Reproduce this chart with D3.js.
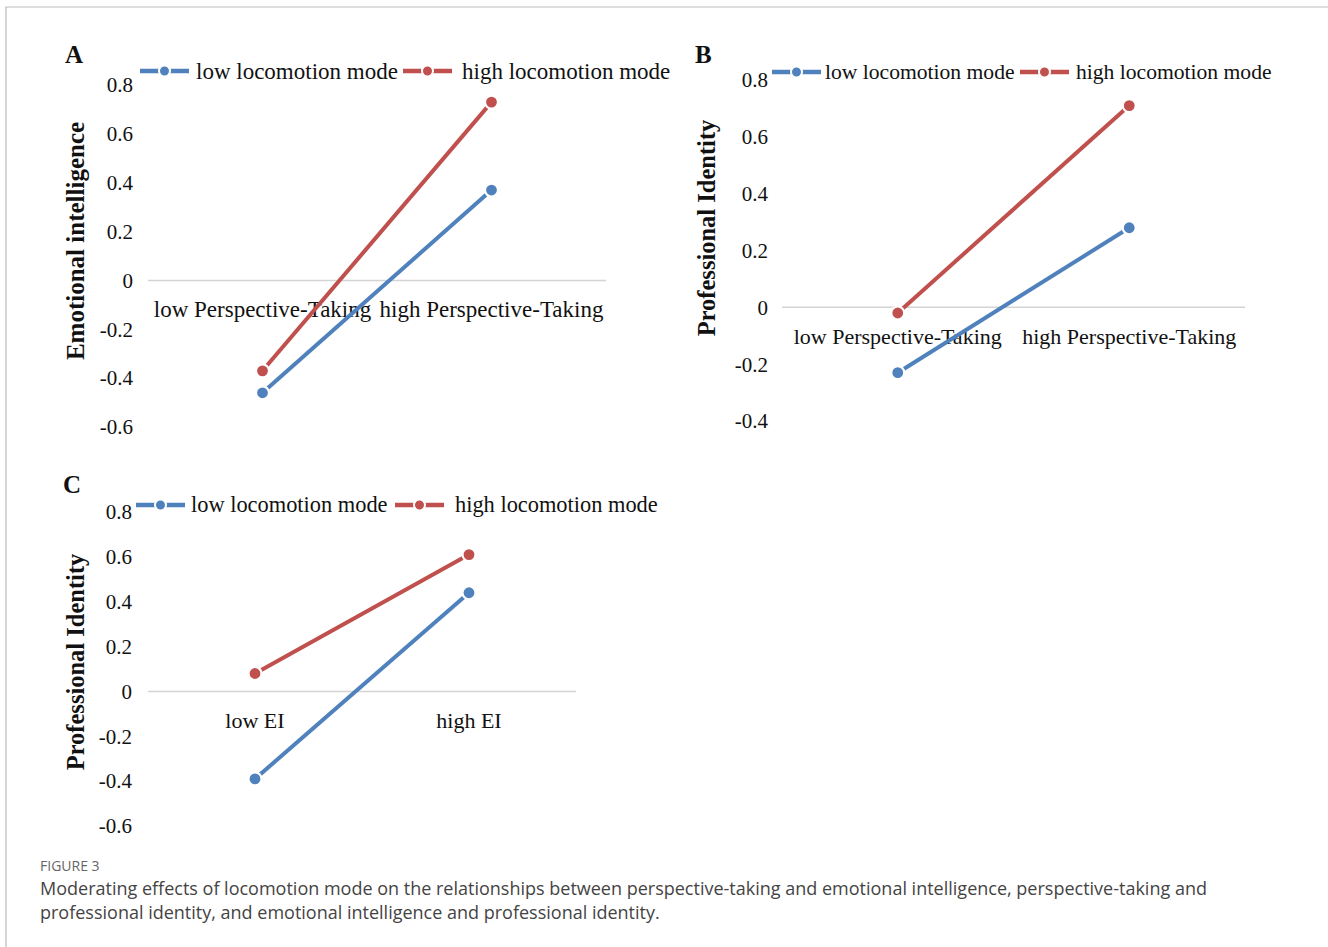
<!DOCTYPE html>
<html lang="en">
<head>
<meta charset="utf-8">
<title>Figure 3: moderating effects of locomotion mode</title>
<script src="https://d3js.org/d3.v7.min.js"></script>
<style>
  body { margin: 0; background: #fff; }
  text { font-family: "Liberation Serif", "Times New Roman", serif; fill: #111; }
  .caption { font-family: "Open Sans", "Noto Sans", sans-serif; fill: #444; }
</style>
</head>
<body>
<script>
// data
var seriesNames = ["low locomotion mode", "high locomotion mode"];
var seriesColors = ["#4f81bd", "#c0504d"];
var yTicks = [0.8, 0.6, 0.4, 0.2, 0, -0.2, -0.4, -0.6];
var yTicksB = [0.8, 0.6, 0.4, 0.2, 0, -0.2, -0.4];

var catsPT = ["low Perspective-Taking", "high Perspective-Taking"];
var catsEI = ["low EI", "high EI"];

var panelA_low = [-0.46, 0.37];
var panelA_high = [-0.37, 0.73];
var panelB_low = [-0.23, 0.28];
var panelB_high = [-0.02, 0.71];
var panelC_low = [-0.39, 0.44];
var panelC_high = [0.08, 0.61];

var w = 1328, h = 947;
var svg = d3.select("body").append("svg")
    .attr("width", w).attr("height", h);

// frame of the figure box
svg.append("path")
    .attr("d", "M6," + h + "V7H" + w)
    .attr("fill", "none").attr("stroke", "#bbb").attr("stroke-width", 1.2);

function drawPanel(p) {
    var g = svg.append("g");
    var y = d3.scaleLinear().domain([p.ticks[p.ticks.length - 1], 0.8])
        .range([p.yBottom, p.yTop]);
    var x = d3.scalePoint().domain(p.cats).range([p.xL, p.xR]).padding(0.5);

    // y tick labels
    g.selectAll(".tick").data(p.ticks).enter().append("text")
        .attr("x", p.tickX).attr("y", function (d) { return y(d); })
        .attr("dy", "0.35em").attr("text-anchor", "end")
        .style("font-size", "21px")
        .text(function (d) { return String(d); });

    // zero line
    g.append("line")
        .attr("x1", p.xL).attr("x2", p.xR)
        .attr("y1", y(0)).attr("y2", y(0))
        .attr("stroke", "#d4d4d4").attr("stroke-width", 1.5);

    // category labels
    g.selectAll(".cat").data(p.cats).enter().append("text")
        .attr("x", function (d) { return x(d); })
        .attr("y", y(0) + 29)
        .attr("dy", "0.35em").attr("text-anchor", "middle")
        .style("font-size", p.catFont + "px")
        .text(function (d) { return d; });

    // series
    var line = d3.line()
        .x(function (d, i) { return x(p.cats[i]); })
        .y(function (d) { return y(d); });

    p.series.forEach(function (vals, s) {
        g.append("path").datum(vals)
            .attr("d", line)
            .attr("fill", "none")
            .attr("stroke", seriesColors[s])
            .attr("stroke-width", 4);
        g.selectAll(".pt" + s).data(vals).enter().append("circle")
            .attr("cx", function (d, i) { return x(p.cats[i]); })
            .attr("cy", function (d) { return y(d); })
            .attr("r", 6.5)
            .attr("fill", seriesColors[s])
            .attr("stroke", "#fff").attr("stroke-width", 2.2);
    });

    // y title
    g.append("text")
        .attr("transform", "translate(" + p.titleX + "," + p.titleY + ") rotate(-90)")
        .attr("text-anchor", "middle")
        .attr("dy", "0.35em")
        .style("font-size", p.titleFont + "px").style("font-weight", "bold")
        .text(p.yTitle);

    // panel letter
    g.append("text")
        .attr("x", p.letterX).attr("y", p.letterY)
        .attr("dy", "0.35em")
        .style("font-size", "25px").style("font-weight", "bold")
        .text(p.letter);

    // legend
    p.legend.forEach(function (lx, s) {
        var ly = p.legendY;
        g.append("line")
            .attr("x1", lx).attr("x2", lx + 49)
            .attr("y1", ly).attr("y2", ly)
            .attr("stroke", seriesColors[s]).attr("stroke-width", 4.5);
        g.append("circle")
            .attr("cx", lx + 24.5).attr("cy", ly).attr("r", 5.5)
            .attr("fill", seriesColors[s])
            .attr("stroke", "#fff").attr("stroke-width", 2);
        g.append("text")
            .attr("x", p.legendText[s]).attr("y", ly)
            .attr("dy", "0.33em")
            .style("font-size", p.legendFont + "px")
            .text(seriesNames[s]);
    });
}

drawPanel({
    letter: "A", letterX: 65, letterY: 54,
    cats: catsPT, series: [panelA_low, panelA_high], ticks: yTicks,
    yTop: 85, yBottom: 427, xL: 148, xR: 606, tickX: 133, catFont: 23,
    yTitle: "Emotional intelligence", titleX: 75, titleY: 241, titleFont: 25,
    legend: [140, 403], legendText: [196, 462], legendY: 71, legendFont: 23
});

drawPanel({
    letter: "B", letterX: 695, letterY: 54,
    cats: catsPT, series: [panelB_low, panelB_high], ticks: yTicksB,
    yTop: 80, yBottom: 421, xL: 782, xR: 1245, tickX: 768, catFont: 22,
    yTitle: "Professional Identity", titleX: 706, titleY: 228, titleFont: 24.5,
    legend: [772, 1020], legendText: [825, 1076], legendY: 72, legendFont: 21.6
});

drawPanel({
    letter: "C", letterX: 63, letterY: 484,
    cats: catsEI, series: [panelC_low, panelC_high], ticks: yTicks,
    yTop: 512, yBottom: 826, xL: 148, xR: 576, tickX: 132, catFont: 22,
    yTitle: "Professional Identity", titleX: 75, titleY: 662, titleFont: 24.5,
    legend: [136, 395], legendText: [191, 455], legendY: 505, legendFont: 22.4
});

// caption
svg.append("text").attr("class", "caption")
    .attr("x", 40).attr("y", 871)
    .style("font-size", "14px").style("fill", "#666")
    .text("FIGURE 3");
svg.append("text").attr("class", "caption")
    .attr("x", 40).attr("y", 895)
    .style("font-size", "18px")
    .text("Moderating effects of locomotion mode on the relationships between perspective-taking and emotional intelligence, perspective-taking and");
svg.append("text").attr("class", "caption")
    .attr("x", 40).attr("y", 919)
    .style("font-size", "18px")
    .text("professional identity, and emotional intelligence and professional identity.");
</script>
</body>
</html>
